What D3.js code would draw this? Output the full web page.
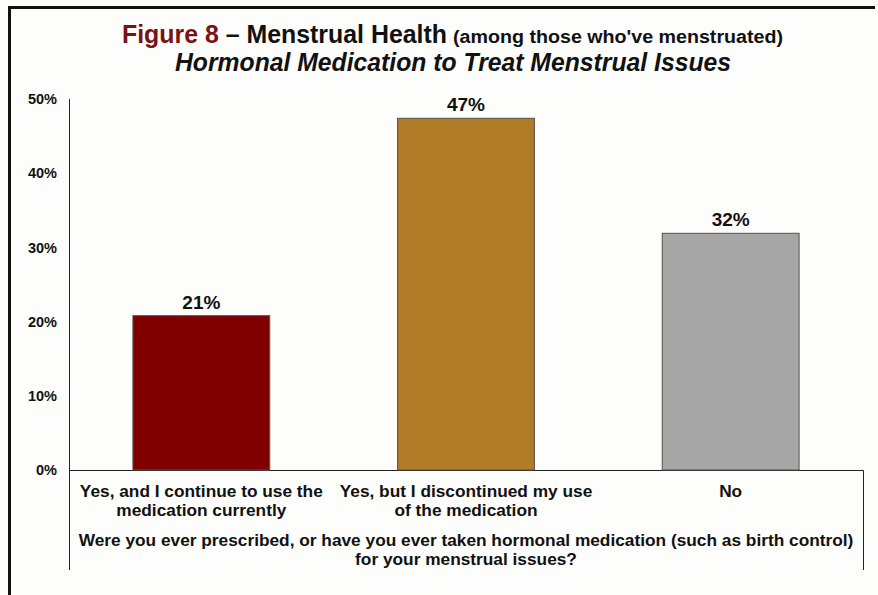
<!DOCTYPE html>
<html>
<head>
<meta charset="utf-8">
<script src="https://cdn.jsdelivr.net/npm/d3@7"></script>
</head>
<body>
<div id="app"></div>
<script>
// data
const categories = [
  ["Yes, and I continue to use the", "medication currently"],
  ["Yes, but I discontinued my use", "of the medication"],
  ["No"]
]
const values = [0.208, 0.474, 0.319]
const colors = ["#800000", "#B07C28", "#A6A6A6"]
const yTicks = [0, 0.1, 0.2, 0.3, 0.4, 0.5]
const question = [
  "Were you ever prescribed, or have you ever taken hormonal medication (such as birth control)",
  "for your menstrual issues?"
]

var body = d3.select("body")
body.style('margin', '0px').style('background', '#FDFDFB')

const W = 878, H = 595
var svg = d3.select("#app").append("svg").attr("width", W).attr("height", H)
  .style('font-family', '"Liberation Sans", Arial, sans-serif').style('font-weight', 'bold')

svg.append("rect").attr("width", W).attr("height", H).attr("fill", "#FDFDFB")

// slide frame (left + top)
svg.append("path").attr("d", "M9.5,600 V7.5 H875").attr("fill", "none")
  .attr("stroke", "#111").attr("stroke-width", 3)

// titles
svg.append("text").attr("x", 122).attr("y", 43).attr("font-size", 25)
  .attr("textLength", 325).attr("lengthAdjust", "spacingAndGlyphs")
  .call(t => {
    t.append("tspan").attr("fill", "#7B1113").text("Figure 8")
    t.append("tspan").attr("fill", "#111").text(" – Menstrual Health")
  })
svg.append("text").attr("x", 453).attr("y", 43).attr("font-size", 17.5)
  .attr("textLength", 330).attr("lengthAdjust", "spacingAndGlyphs")
  .attr("fill", "#111").text("(among those who've menstruated)")
svg.append("text").attr("x", 175).attr("y", 71).attr("font-size", 25)
  .attr("font-style", "italic").attr("fill", "#111")
  .attr("textLength", 556).attr("lengthAdjust", "spacingAndGlyphs")
  .text("Hormonal Medication to Treat Menstrual Issues")

// scales
const left = 69, right = 863, base = 470
const x = d3.scaleBand().domain(d3.range(values.length)).range([left, right])
  .paddingInner(0.483).paddingOuter(0.2415)
const y = d3.scaleLinear().domain([0, 0.5]).range([base, 99])

// y axis
const yAxis = svg.append("g").attr("transform", `translate(${left},0)`)
  .call(d3.axisLeft(y).tickValues(yTicks).tickSize(0).tickPadding(12).tickFormat(d3.format(".0%")))
yAxis.select(".domain").remove()
yAxis.selectAll("text").attr("font-size", 14.5).attr("fill", "#111")
  .attr("font-family", '"Liberation Sans", Arial, sans-serif').attr("font-weight", "bold")

// axis box: left line, baseline, right line
svg.append("path").attr("d", `M${left + 0.5},${y(0.5)} V570 M${left},${base + 0.5} H${right + 0.5} V570`)
  .attr("fill", "none").attr("stroke", "#222").attr("stroke-width", 1)

// bars
svg.selectAll("rect.bar").data(values).join("rect").attr("class", "bar")
  .attr("x", (d, i) => x(i)).attr("width", x.bandwidth())
  .attr("y", d => y(d)).attr("height", d => base - y(d))
  .attr("fill", (d, i) => colors[i]).attr("stroke", "#5a5048").attr("stroke-width", 1)

svg.selectAll("text.val").data(values).join("text").attr("class", "val")
  .attr("x", (d, i) => x(i) + x.bandwidth() / 2).attr("y", d => y(d) - 7)
  .attr("text-anchor", "middle").attr("font-size", 19).attr("fill", "#111")
  .text(d3.format(".0%"))

// category labels
categories.forEach((lines, i) => {
  svg.append("text").attr("x", x(i) + x.bandwidth() / 2).attr("y", 497)
    .attr("text-anchor", "middle").attr("font-size", 17.3).attr("fill", "#111")
    .selectAll("tspan").data(lines).join("tspan")
    .attr("x", x(i) + x.bandwidth() / 2).attr("dy", (d, j) => j ? 19 : 0).text(d => d)
})

// question
svg.append("text").attr("x", (left + right) / 2).attr("y", 546)
  .attr("text-anchor", "middle").attr("font-size", 17.3).attr("fill", "#111")
  .selectAll("tspan").data(question).join("tspan")
  .attr("x", (left + right) / 2).attr("dy", (d, j) => j ? 19 : 0).text(d => d)
</script>
</body>
</html>
